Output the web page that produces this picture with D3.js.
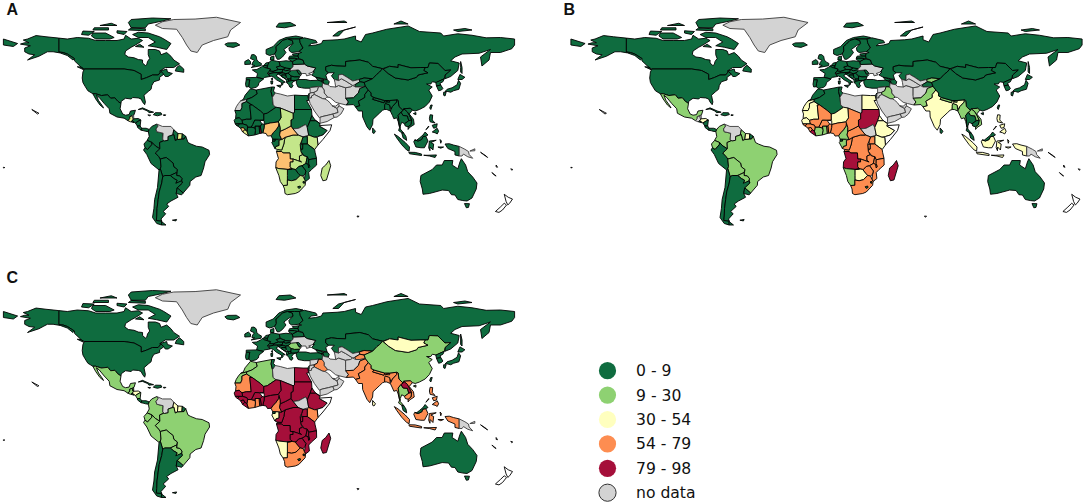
<!DOCTYPE html>
<html>
<head>
<meta charset="utf-8">
<script src="https://cdn.jsdelivr.net/npm/d3@7"></script>
<style>
  html, body { margin: 0; padding: 0; background: #fff; }
  svg { display: block; }
</style>
</head>
<body>
<svg id="chart"></svg>
<script>
// country outlines, lon,lat pairs. "|" separates islands
const outlines = [
  ["Greenland", "-73,78.2 -68,76 -58,75.5 -54,70 -51,65 -48,61 -43.5,60 -40,65 -32,68 -22,70.5 -20,75 -13,80 -30,83.5 -45,82.3 -60,82 -68,80.5"],
  ["Canada", "-141,69.6 -135,69 -128,70 -120,69.5 -115,68 -108,68 -100,68 -95,69 -94,71.5 -90,69 -85,69.5 -82,68 -87,65 -90,63.5 -94,61 -94.5,58.7 -92,57 -88,56.5 -85,55.3 -82,55 -82,53 -80,51.3 -79,52 -78.5,54 -77,56 -78,58.5 -78,62 -73,62 -70,61 -69,58.5 -65,60 -62,57.5 -60,55 -56,52.5 -60,50 -66,50 -70,47.5 -65,49 -64.5,47 -61,46 -64,44 -66,44 -67,45.5 -69,47.3 -71,45 -75,45 -79,43.3 -83,42 -83,45.5 -88,48 -95,49 -123,49 -125,50 -130,54.5 -130,56 -135,59 -138,60 -141,60.3|-62,66 -65,62 -72,63.5 -78,64.5 -73,67 -78,70 -85,70 -89,72 -85,73.5 -78,73 -70,70.5 -67,69|-105,69 -115,69 -118,71 -117,73 -108,73 -102,70|-125,72 -120,71.5 -116,74 -124,74.3|-90,76.5 -80,76.5 -78,79 -68,81 -62,82.5 -75,83 -90,82 -92,80|-92,75 -80,74.5 -80,75.8 -90,76.4|-117,75 -106,75 -106,76.5 -116,76.5|-59,47.7 -53,46.8 -53,49 -56,51.5 -58,50|-87,64 -81,63.5 -84,65.5|-128,50.5 -123.5,48.5 -125,50.3|-100,73 -95,72 -93,74 -100,74.5|-112,78 -100,78 -104,79.5"],
  ["USA", "-123,49 -95,49 -88,48 -83,45.5 -83,42 -79,43.3 -75,45 -71,45 -69,47.3 -67,45.5 -70,43.5 -70,41.7 -74,40.5 -75.5,38 -76,35.5 -78,34 -81,31.5 -80,27 -80.5,25.2 -82,27 -83,29 -85,29.7 -89,30 -90,29 -94,29.5 -97,27.5 -97.2,26 -99.5,27.5 -101.5,29.8 -104.5,29.5 -106.5,31.8 -111,31.3 -115,32.5 -117,32.5 -120.5,34.5 -122.5,37.5 -124,40 -124.5,43 -124,47|-141,69.6 -150,70.5 -157,71.3 -163,69 -166,68.3 -162,66.5 -165,66.5 -168,65.6 -161,64.5 -165,63 -165,60.5 -162,59 -158,58.5 -163,55 -155,57.5 -152,59 -149,60.5 -145,60.5 -140,59.7 -135,58 -131,55 -130,56 -135,59 -138,60 -141,60.3"],
  ["Mexico", "-117,32.5 -115,32.5 -111,31.3 -106.5,31.8 -104.5,29.5 -101.5,29.8 -99.5,27.5 -97.2,26 -97.8,22.5 -96,19 -94,18.2 -91.5,18.6 -90.5,21 -87,21.5 -88,18.5 -89.2,17.8 -91,17.2 -91,16 -92.2,14.5 -95,16.2 -100,17 -105,19.5 -105.5,22.5 -109,26 -112.5,30 -114.5,31.5 -113,28 -110,24 -109.5,23 -112,25 -115,29"],
  ["Guatemala", "-92.2,14.5 -91,16 -91,17.2 -89.2,17.8 -88.3,15.8 -89.3,14.4 -90.5,13.8"],
  ["Belize", "-89.2,17.8 -88.3,18.4 -88.2,16 -89,16"],
  ["Honduras", "-89.3,14.4 -88.3,15.8 -85,16 -83.2,15 -84.5,14.5 -87,13 -87.8,13.5"],
  ["El Salvador", "-90.1,13.8 -89.3,14.4 -87.8,13.5 -88,13.2"],
  ["Nicaragua", "-87,13 -84.5,14.5 -83.2,15 -83.7,11 -85.7,11"],
  ["Costa Rica", "-85.7,11 -83.7,11 -82.6,9.5 -83,8.2 -85.5,10"],
  ["Panama", "-83,8.2 -82.6,9.5 -79.5,9.5 -77.3,8.7 -77.9,7.2 -80,7.5 -81,7.8"],
  ["Cuba", "-85,22 -82,23.1 -77,21 -74.2,20.2 -77.5,19.9 -78.5,21 -82,22.4"],
  ["Hispaniola", "-74.4,18.5 -73,19.9 -69,19.8 -68.4,18.6 -71.5,17.8"],
  ["Jamaica", "-78.3,18.4 -76.3,18.2 -77,17.8"],
  ["Puerto Rico", "-67.2,18.5 -65.6,18.4 -66,18 -67.2,18"],
  ["Colombia", "-77.3,8.7 -75.5,10.7 -72,12.3 -71,11 -72.5,9 -72,7.2 -67.5,6.2 -67.8,2 -67,1.2 -70,0 -69.8,-4.2 -73,-2.3 -75.3,0 -78.8,1.4 -77.3,4 -77.9,7.2"],
  ["Venezuela", "-72,12.3 -68,10.7 -62,10.7 -60,8.5 -60.7,5.2 -64,4 -64,1.5 -66.5,1 -67.8,2 -67.5,6.2 -72,7.2 -72.5,9 -71,11"],
  ["Guyana", "-60,8.5 -57,6 -57.5,2 -59,1.3 -60,5.2 -60.7,5.2"],
  ["Suriname", "-57,6 -54,5.8 -54.3,2.2 -57.5,2"],
  ["French Guiana", "-54,5.8 -51.6,4.2 -52.8,2.3 -54.3,2.2"],
  ["Ecuador", "-78.8,1.4 -75.3,0 -75.5,-1.5 -78.5,-4.7 -80.3,-3.4 -81,-1"],
  ["Peru", "-80.3,-3.4 -78.5,-4.7 -75.5,-1.5 -75.3,0 -73,-2.3 -69.8,-4.2 -73,-7 -70.5,-9.5 -69.5,-11 -69,-16 -69.5,-17.5 -70.4,-18.3 -76,-14 -79,-8 -81.3,-5"],
  ["Brazil", "-60,5.2 -59,1.3 -57.5,2 -54.3,2.2 -52.8,2.3 -51.6,4.2 -50,0 -48,-1 -44,-2.5 -40,-3 -35.2,-5.2 -34.8,-8 -38,-12.8 -39,-17 -40.8,-22 -44.5,-23 -48.5,-26 -48.7,-28.5 -53.4,-33.7 -57.6,-30.2 -54,-27 -54.5,-25.5 -54.3,-24 -55.8,-22.3 -58,-22 -57.5,-18 -60,-16.2 -60.5,-13.7 -65.3,-10 -69.5,-11 -70.5,-9.5 -73,-7 -69.8,-4.2 -70,0 -67,1.2 -66.5,1 -64,1.5 -64,4"],
  ["Bolivia", "-69.5,-11 -65.3,-10 -60.5,-13.7 -60,-16.2 -57.5,-18 -58,-20 -62.5,-22 -66.3,-22 -67.8,-22.8 -69.5,-17.5 -69,-16"],
  ["Paraguay", "-58,-20 -58,-22 -55.8,-22.3 -54.3,-24 -54.5,-25.5 -57.5,-27.3 -58.6,-27.2 -57.7,-25.2 -60,-24 -62.5,-22"],
  ["Chile", "-70.4,-18.3 -69.5,-17.5 -67.8,-22.8 -68.5,-27 -70.3,-33 -71,-38 -71.8,-44 -72,-49 -72.3,-52 -68.5,-52.3 -68.6,-55 -72,-54 -75,-50 -74,-44 -73.5,-38 -71.5,-30"],
  ["Argentina", "-66.3,-22 -62.5,-22 -60,-24 -57.7,-25.2 -58.6,-27.2 -54.5,-25.5 -54,-27 -57.6,-30.2 -58.3,-34 -57,-36.5 -62,-39 -65,-41 -63.6,-42.6 -67.5,-46 -65.7,-47.5 -69,-51 -68.5,-52.3 -72.3,-52 -72,-49 -71.8,-44 -71,-38 -70.3,-33 -68.5,-27 -67.8,-22.8|-68.6,-52.7 -65.5,-55 -68.6,-55"],
  ["Uruguay", "-57.6,-30.2 -53.4,-33.7 -54.5,-34.9 -58.3,-34"],
  ["Falklands", "-61,-51.8 -58,-51.3 -58.5,-52.3"],
  ["Iceland", "-24,65.5 -22,66.4 -16,66.5 -13.5,65 -18,63.4 -22.5,64"],
  ["UK", "-5.5,50 1.5,51.2 1.7,52.7 0,53.5 -1.5,55 -2,57.5 -3.5,58.6 -5.2,58.5 -6,56 -3.2,54.8 -4.5,53.3 -5,51.7 -3,51.4"],
  ["Ireland", "-10,52 -6,52.2 -6,54 -7.5,55.3 -10,54"],
  ["Norway", "5,59 7.5,58 11,59 12.2,61 12,64 14,65.5 16.5,68 20,69 25,69 28.5,69 31,70 26,71 19,70 14,68 10,64 5,62|12,77 18,76.5 26,78 22,80 14,79.5"],
  ["Sweden", "11,59 12.8,55.5 14.3,55.5 16.5,57 19,60 17.5,62 21,64.5 24,66 23.5,68 20,69 16.5,68 14,65.5 12,64 12.2,61"],
  ["Finland", "24,66 21,63 21.5,61 23,60 28,60.5 31,63 29,66.5 29,69 28.5,69 25,69 20.7,69 23.5,68"],
  ["Denmark", "8,55 8.2,57 10.5,57.7 10.5,55"],
  ["Netherlands", "3.5,51.4 4.8,53 7,53.4 6,51"],
  ["Belgium", "2.5,51 3.5,51.4 6,51 5.8,49.6 4,50"],
  ["France", "-4.7,48.4 -1.5,48.7 1.5,50.2 2.5,51 4,50 5.8,49.6 8.2,49 7.5,47.6 6,46.3 7.7,44 4,43.4 3,42.5 -1.7,43.4 -1,46|8.6,42.5 9.5,43 9.4,41.5"],
  ["Spain", "-9,43.2 -1.7,43.4 3.2,42.3 0,40 -0.5,38 -2,36.8 -5.5,36 -7.3,37.2 -7,39.5 -6.5,41.8 -9,41.8"],
  ["Portugal", "-9,41.8 -6.5,41.8 -7,39.5 -7.3,37.2 -9,37 -9.5,38.8"],
  ["Germany", "7,53.4 9,54.8 14.2,53.9 15,51 12.2,50.3 13.8,48.7 10,47.4 7.5,47.6 8.2,49 5.8,49.6 6,51"],
  ["Switzerland", "6,46.3 7.5,47.6 10,47.4 10.4,46.5 8,46"],
  ["Austria", "10,47.4 13.8,48.7 17,48.7 16.2,46.8 13,46.6 10.4,46.8"],
  ["Italy", "7.7,44 6.9,45.8 10.4,46.5 13,46.6 13.8,45.6 12.3,45 12.6,44 16,41.8 18.5,40.2 16.7,40 17,39 16,38 15.8,40 12.3,41.8 10.3,43.5 8.5,44.3|12.5,38 15.5,38.2 15,36.7|8.3,41 9.7,41 9.5,39 8.5,39"],
  ["Poland", "14.2,53.9 19,54.5 23.5,54 24,50.5 22.5,49.2 19,49.5 15,51"],
  ["Czechia", "12.2,50.3 15,51 18.8,49.6 17,48.7 13.8,48.7"],
  ["Slovakia", "17,48.7 18.8,49.6 22.5,49.2 22,48.4 18.8,47.8"],
  ["Hungary", "16.2,46.8 17,48.7 18.8,47.8 22,48.4 22.8,48 20.5,46.2 18.8,45.9"],
  ["Slovenia", "13.8,45.6 13,46.6 16.2,46.8 16.2,46.4"],
  ["Croatia", "13.8,45.6 16.2,46.4 18.8,45.9 19,44.9 16,45 16,44 18.5,42.5 14.8,44.8"],
  ["Bosnia", "16,45 19,44.9 19.3,43.5 18.5,42.6 16,44"],
  ["Serbia", "18.8,45.9 20.5,46.2 22.7,44.3 22.5,42.3 20.5,42.3 19.3,43.5 19,44.9"],
  ["Albania", "18.5,42.5 20.5,42.3 21,40.8 19.5,40 19.3,41.5"],
  ["Macedonia", "20.5,42.3 22.5,42.3 22.8,41.3 21,40.8"],
  ["Greece", "19.5,40 21,40.8 22.8,41.3 26.3,41.5 24,40.5 23,39 24,38 23,36.5 21.7,37 21,38.5"],
  ["Romania", "22.8,48 26.5,48.3 28.2,45.5 29.6,45 28.5,43.8 25,43.7 22.7,44.3 20.5,46.2"],
  ["Bulgaria", "22.7,44.3 25,43.7 28.5,43.8 27.8,42 26.3,41.5 22.8,41.3 22.5,42.3"],
  ["Ukraine", "24,50.5 24,52 32,52.3 34,51 40,49.7 38,47 35,46 36.5,45.2 33.5,44.4 33,46 30.5,46 29.6,45 28.2,45.5 26.5,48.3 22.8,48 22,48.4 22.5,49.2"],
  ["Moldova", "26.5,48.3 28,48.3 30,46 28.2,45.5"],
  ["Belarus", "24,52 23.5,54 27,55.8 31,55 32,52.3"],
  ["Lithuania", "21,55.3 21,56.3 25,56.3 27,55.8 23.5,54"],
  ["Latvia", "21,56.3 21.5,57.5 24.3,57.8 27.5,57.7 28,56 27,55.8 25,56.3"],
  ["Estonia", "23.5,59 28,59.5 27.5,57.7 24.3,57.8"],
  ["Russia", "28,60.5 30,60 28,59.5 27.5,57.7 28,56 31,55 32,52.3 34,51 40,49.7 38,47 39,47 37,45 40,43.5 48,42 47,45 49,46.5 47,48 47,50.5 51,51.5 55,51 61,50.8 61,54 71,55 77,53.5 80,50.8 87,49.2 92,50.8 98,50 98,52 102,51 107,49.8 114,50 119,50 120,53 126,52.7 131,48 135,48.3 131,45 131,42.5 135,44 140,48 141,53 135,54.5 138,57 143,59 155,59.5 163,62 156,57 157,51 162,55 163,60 170,60 178,62.5 180,65 180,69 170,70 160,69.8 150,71.5 140,72.5 130,71 128,73 113,74 105,77.7 90,75.5 80,73 75,72 72,67 68,68.5 68,71 60,69 55,68.5 45,68 44,66 40,65 35,64.5 37,66 41,66.5 40,68 32,69.8 28.5,69 29,66.5 31,63|-180,69 -170,66 -173,64 -180,65|142,54 143,50 143,46 142,47 142,50|52,71 56,74 68,77 60,75 56,71|95,79 105,79 100,81|137,75 145,76 150,75 140,74|48,80 60,81 62,80"],
  ["Georgia", "40,43.5 46,41.8 43.5,41 41.5,41.5"],
  ["Armenia", "43.5,41 45,41 46,39 44.8,39.7"],
  ["Azerbaijan", "46,41.8 48,42 49.5,40.5 48.8,38.5 46,39 45,41"],
  ["Turkey", "26.3,41.5 28,42 33,42 36,41.3 41.5,41.5 43.5,41 44.8,39.7 44.5,37 42,37.2 36.5,36.7 36,36.2 32,36.2 30,36.5 27.5,37 26.3,39.5"],
  ["Syria", "36,36.2 36.5,36.7 42,37.2 41,34.5 38.8,33.4 36,33"],
  ["Israel", "34.5,31.5 35.5,33 35.5,31 35,29.5"],
  ["Jordan", "35.5,32 36,33 38.8,33.4 39,32 37,31 37,29.8 35,29.5 35.5,31"],
  ["Iraq", "42,37.2 44.5,37 46,35 46,33 48.5,30.2 47.5,30 46.5,29 44.8,29.2 39,32 38.8,33.4 41,34.5"],
  ["Iran", "44.8,39.7 46,39 48.8,38.5 50,37.3 54,37 56,38 61,36.5 61,31.5 63,27 61.5,25 57,26 54,26.8 50,30 48.5,30.2 46,33 46,35 44.5,37"],
  ["Saudi Arabia", "35,29.5 37,29.8 37,31 39,32 44.8,29.2 46.5,29 48,28.2 50,26.5 51.5,24.5 55,22.7 55.7,20 52,19 48.8,18.2 45,17.4 43,16.8 42.5,16.5 39,21 36,26"],
  ["Yemen", "43,12.8 43,16.8 45,17.4 48.8,18.2 52,19 53,16.7 48,14"],
  ["Oman", "52,19 55.7,20 55,22.7 56.3,24.5 59.8,22.5 57.7,19 55,17 53,16.7"],
  ["UAE", "51.5,24.5 54,24.2 56.3,26 56.3,24.5 55,22.7"],
  ["Kazakhstan", "47,50.5 51,51.5 55,51 61,50.8 61,54 71,55 77,53.5 80,50.8 87,49.2 85,47 83,45.5 80,42.5 74,43 70.5,42 66,41 62,43.5 58.5,45.5 56,45 56,41.3 53,42 51,44.5 53,46.5 49,46.5 47,48"],
  ["Turkmenistan", "53,42 56,41.3 58,42.5 61,41 66,38 64.5,37 61,36.5 56,38 54,37 53.5,40"],
  ["Uzbekistan", "56,45 58.5,45.5 62,43.5 66,41 70.5,42 71,40.5 67.5,38.5 66,38 61,41 58,42.5 56,41.3"],
  ["Kyrgyzstan", "70.5,42 74,43 80,42.5 74,40 71,40.5"],
  ["Tajikistan", "67.5,38.5 71,40.5 74,40 75,37.5 71,37 68,37"],
  ["Afghanistan", "61,36.5 64.5,37 66,38 68,37 71,37 75,37.5 71,36 70,33 66.5,29.8 61,29.5 61,31.5"],
  ["Pakistan", "61,29.5 66.5,29.8 70,33 71,36 75,37.5 77,35 74.5,32 74.5,30 70,27.5 71,24.5 68,23.7 66.5,25.3 61.5,25 63,27"],
  ["India", "77,35 79,33 79,31 81,30 80,28.8 88,26.5 88.5,28 92,28 97,28.5 97,27 94,24 93,22 92,24.5 89,26 88.5,22 87,21.5 85,19.7 80.3,15.5 80,12 78,8.2 76,10.5 73,17 72.8,21 70,21 68,23.7 71,24.5 70,27.5 74.5,30 74.5,32"],
  ["Nepal", "80,28.8 81,30 88.5,28 88,26.5"],
  ["Bhutan", "89,27 92,28 92,26.8"],
  ["Bangladesh", "88.5,25 89,26 92,25 92.5,21 90,22 88.5,22"],
  ["Sri Lanka", "80,9.7 82,7.5 81,6 80,6.5"],
  ["China", "74,40 80,42.5 83,45.5 85,47 87,49.2 91,46 96,43 105,41.7 111,43.5 112,45 119,46.5 116,48 117,50 119,50 120,53 126,52.7 131,48 135,48.3 131,45 130.5,42.5 125,40 122,40.5 121,39 118,39 122,37 119.5,35 122,31 120,27 117,24 113,22 110,21 108,21.6 106.5,22.8 102,22.5 101.5,21.3 98.5,24 98,28 97,28.5 92,28 88.5,28 81,30 79,31 79,33 77,35 75,37.5|108.7,19.3 110.5,20 110.5,18.5"],
  ["Mongolia", "87.5,49 92,50.8 98,50 98,52 102,51 107,49.8 114,50 117,50 116,48 119,46.5 112,45 111,43.5 105,41.7 96,43 91,46"],
  ["North Korea", "124.5,40 130.5,42.5 129.5,40.5 127.5,39.5 128,38.3 125,37.7"],
  ["South Korea", "125,37.7 128,38.3 129.5,36 128.5,35 126.5,34.5"],
  ["Japan", "131,34 132.5,35.5 136,36.5 139.5,38.5 140.5,41.5 142,39.5 140.8,35.5 137,34.5 135,33.5 133,34|140,42 141.5,45.4 145,43.5 143,42|130,33.5 131.8,33.5 131,31 130,31.5"],
  ["Taiwan", "120.2,23 121,25 122,25 121,22"],
  ["Myanmar", "92.5,21 93,22 94,24 97,27 97,28.5 98,28 98.5,24 101.5,21.3 100,20.3 98,18 98.5,15 99,10 98,14 97,16.5 95,15.8 94,18"],
  ["Thailand", "100,20.3 101.5,18 104.5,17.8 105.5,14.5 102.5,12.5 100.5,13.5 99.5,11 99.5,9 102,6.2 100.5,6.5 98.3,8 99,10 98.5,15 98,18"],
  ["Laos", "101.5,21.3 102,22.5 104.5,20.5 106,18 107.5,15 105.5,14.5 104.5,17.8 101.5,18 100,20.3"],
  ["Vietnam", "102,22.5 106.5,22.8 108,21.6 105.8,19 108.8,15.5 109.3,12 106,10 105,8.7 105,10.5 107,12 107.5,15 106,18 104.5,20.5"],
  ["Cambodia", "102.5,12.5 105.5,14.5 107.5,15 107,12 105,10.5 103,11"],
  ["Indonesia", "95.3,5.6 98,4 103,0 106,-3 105.7,-5.8 104,-5 100.5,-1.5 97,3|105.5,-6.5 110,-6.6 114.5,-7.7 114.5,-8.7 106,-7.5|109,0.5 109.7,1.7 112,1 114.5,2 115.5,4 117.5,4.2 119,1 116.5,-3.5 114,-3.5 110.5,-3|119.5,-3.5 120,1 124.8,1.5 121,0 123,-1 122.5,-5 120.5,-3 120.4,-5.5|116,-8.5 119,-8.5 125,-8.3 124,-10 120,-9|131,-1 134,-0.8 137,-1.7 141,-2.6 141,-9 138,-8.3 138,-6 133,-4|127.5,2 128.5,1 128,-0.5|126,-3 130,-3 128,-3.8"],
  ["Malaysia", "100.5,6.5 102,6.2 103.5,4 104,1.4 101.5,3|109.7,1.7 111,1.5 113,3 115.5,5 117,7 119,5 117.5,4.2 115.5,4 114.5,2 112,1"],
  ["Papua New Guinea", "141,-2.6 145,-4.5 147.5,-6 148,-8 150.5,-10.5 147,-9.5 144,-7.7 143,-9 141,-9|148.5,-5.7 152,-4.2 152,-5.5"],
  ["Philippines", "120.5,18.5 122.3,18.3 122,15 124,13 120.5,13.8 120,16|122,7 125.5,9.5 126.5,7.5 125.5,5.7 124,6.5|122,11.5 125.5,12.5 125,10 123,9.5|117.5,8.5 119.5,11 119.5,10.3"],
  ["Australia", "113.5,-26 114,-22 122,-18 125,-15 129,-15 130.5,-12 136.5,-12 136,-15 140,-17.5 141.5,-13 142.5,-10.8 145.5,-15 147,-19.5 150.5,-23 153.5,-27 153,-31 150,-37 146.5,-39 143.5,-38.7 140,-38 138,-35 135.5,-34.8 133.5,-32 129,-31.7 124,-33 120,-34 115.5,-34.5 115,-31|144.7,-40.7 148.2,-40.8 147.5,-43.3 146,-43.5"],
  ["New Zealand", "172.7,-34.5 175.5,-36.5 178.5,-37.7 176.5,-40.5 175.2,-41.6 174,-39.3|172.7,-40.5 174.3,-41.7 171.5,-45 169,-46.6 166.5,-46 170,-43"],
  ["Pacific islands", "156,-6.5 160,-9 161,-10 158,-8|167,-15 168,-16.5 167,-16.3|164,-20 167,-22.3 166,-22|177.3,-17.5 178.7,-18 178,-18.5|-180,-16.5 -179,-16.7 -180,-17|-160,22 -155,19.5 -156,19|69,-49 70.5,-49.2 69.5,-49.8"],
  ["Morocco", "-9.8,31.5 -6,35.8 -2,35 -1.2,32.5 -5,30 -8.7,28.7 -13,27.7 -11,28.8"],
  ["Western Sahara", "-13,27.7 -8.7,28.7 -8.7,27.3 -12,26 -12,23.4 -13,21.3 -17,21.3 -16,23.8 -14.5,26"],
  ["Mauritania", "-17,21.3 -13,21.3 -12,23.4 -12,26 -8.7,27.3 -4.8,25 -6.5,25 -5.5,15.5 -9,15.5 -12,14.8 -14,16.5 -16.5,16 -16.2,19"],
  ["Algeria", "-2,35 9,37 8.5,34 9.5,30.2 10,25 12,23.5 5.8,19.5 3.3,19 1,21 -4.8,25 -8.7,27.3 -8.7,28.7 -5,30 -1.2,32.5"],
  ["Tunisia", "9,37 11,37 10.2,34.3 11.5,33 9.5,30.2 8.5,34"],
  ["Libya", "11.5,33 15,32.3 20,31 25,31.6 25,20 24,19.5 15,23 12,23.5 10,25 9.5,30.2"],
  ["Egypt", "25,31.6 31,31.3 34.3,31.3 35,28 33.5,28 37,22 25,22"],
  ["Sudan", "25,22 37,22 37.3,18 36,14.5 34,10 32.8,12 28,9.5 24,9 22.5,11 22.5,15 24,15.7 24,19.5 25,20"],
  ["South Sudan", "24,9 28,9.5 32.8,12 34,10 35,5 31,3.7 27.5,5"],
  ["Eritrea", "36,14.5 37.3,18 39.5,15 43,12.5 40,14.5"],
  ["Ethiopia", "36,14.5 40,14.5 43,12.5 42.5,11 48,8 45,5 41.5,4 39,3.5 35,5 34,10"],
  ["Somalia", "43,11.3 51.2,11.8 50,8 45,2 41.5,-1.7 41,3.5 41.5,4 45,5 48,8 42.5,11"],
  ["Kenya", "35,5 39,3.5 41,3.5 41.5,-1.7 39.2,-4.7 34,-1 34,4"],
  ["Uganda", "31,3.7 34,4 34,-1 30,-1 30,1"],
  ["Tanzania", "30.7,-1 34,-1 39.2,-4.7 39.5,-6.5 40.5,-10.5 35,-11.5 34,-9.5 32,-9 29.5,-6 29.3,-4.4 30.7,-4.4"],
  ["Rwanda", "29,-1.2 30.8,-1.2 30.7,-4.4 29.3,-4.4"],
  ["DR Congo", "12.3,-6 13,-4.7 16,-5 17.5,-1 18,2 18.5,3.5 24,5 27.5,5 31,3.7 30,1 29,-1.2 29.3,-4.4 29.5,-6 30.7,-8.2 28.5,-9 28.5,-11.9 30,-13 27,-12 24,-11 22,-11 21.8,-7 17,-7 16,-6"],
  ["Congo", "11.2,-4 13,-4.7 16,-5 17.5,-1 18,2 18.5,3.5 16,2 14,1.5 14,-2 12,-2.5"],
  ["Gabon", "9,0 9.8,1 11.3,1 11.3,2.3 13.3,2.2 14,1.5 14,-2 12,-2.5 11.2,-4"],
  ["Equatorial Guinea", "9.5,1 9.6,2.3 11.3,2.3 11.3,1"],
  ["Cameroon", "8.5,4.5 9.6,2.3 13.3,2.2 16,2 14.5,5 15,7.5 15,10 14,13 13.8,11 12,8.5 10,6.5"],
  ["Central African Republic", "14.5,5 15,7.5 18.5,9 22.5,11 24,9 27.5,5 24,5 18.5,3.5 16,2"],
  ["Chad", "13.5,13.7 14,13 15,10 15,7.5 18.5,9 22.5,11 22.5,15 24,15.7 24,19.5 15,23 15.5,16.5"],
  ["Niger", "3.7,12 3.7,14.5 0.3,14.9 3.3,15 3.3,19 5.8,19.5 12,23.5 15,23 15.5,16.5 13.5,13.7 8,13"],
  ["Nigeria", "2.7,6.4 5,6 6,4.3 8.5,4.5 10,6.5 12,8.5 13.8,11 14,13 13.5,13.7 8,13 3.7,12 3.6,10"],
  ["Benin", "1.6,6.2 2.7,6.4 3.6,10 3.7,12 2.2,12.4 0.9,11"],
  ["Togo", "0.5,6 1.6,6.2 0.9,11 0,11"],
  ["Ghana", "-3,5 0.5,6 0,11 -2.8,11 -2.5,8"],
  ["Ivory Coast", "-7.5,4.4 -3,5 -2.5,8 -2.8,9.7 -5.5,10.3 -8,10.3 -8.5,7.5"],
  ["Burkina Faso", "-5.5,10.3 -2.8,9.7 -2.8,11 0.9,11 2.2,12.4 0.3,14.9 -3,15 -4.5,12"],
  ["Mali", "-12,14.8 -9,15.5 -5.5,15.5 -6.5,25 -4.8,25 1,21 3.3,19 3.3,15 0.3,14.9 -3,15 -4.5,12 -5.5,10.3 -8,10.3 -8.5,11.5 -11.5,12.4"],
  ["Senegal", "-17.5,14.7 -16.5,16 -14,16.5 -12,14.8 -11.5,12.4 -16.7,12.4"],
  ["Guinea-Bissau", "-16.7,12.4 -13.7,12.4 -13.7,11 -15.5,11"],
  ["Guinea", "-15,11 -13.7,12.4 -11.5,12.4 -8.5,11.5 -8,10.3 -8.5,7.5 -10,8.5 -11,10 -13,9.5"],
  ["Sierra Leone", "-13,9.5 -11,10 -10,8.5 -11.5,7"],
  ["Liberia", "-11.5,7 -10,8.5 -8.5,7.5 -7.5,4.4"],
  ["Angola", "11.8,-16.8 12,-13 13.7,-10.7 12.3,-6 16,-6 17,-7 21.8,-7 22,-11 24,-11 24,-13 22,-13 22,-16.2 23.4,-17.6 20.8,-18 14,-17.4"],
  ["Zambia", "22,-13 24,-13 24,-11 27,-12 30,-13 28.5,-11.9 28.5,-9 30.7,-8.2 32,-9 34,-9.5 33,-14 30.3,-15.5 28,-16 26,-18 23.4,-17.6 22,-16.2"],
  ["Malawi", "34,-9.5 35,-11.5 35,-14 35.8,-16 35,-17 34.5,-14.5 33,-14"],
  ["Mozambique", "40.5,-10.5 40.6,-15 37,-18 35,-20 35.5,-24 32.8,-26 32,-24.5 32.5,-21 33,-19 30.3,-15.5 33,-14 34.5,-14.5 35,-17 35.8,-16 35,-14 35,-11.5"],
  ["Zimbabwe", "26,-18 28,-16 30.3,-15.5 33,-19 32.5,-21 31,-22.4 29,-22 27.5,-20.5 25.5,-18"],
  ["Botswana", "20,-18 23.4,-17.6 25.5,-18 27.5,-20.5 29,-22 26,-24.8 23,-25.5 20,-25 20,-22"],
  ["Namibia", "11.8,-16.8 14,-17.4 20.8,-18 23.4,-17.6 20,-18 20,-22 20,-28.5 17,-28.7 15,-26 14,-22"],
  ["South Africa", "17,-28.7 20,-28.5 20,-25 23,-25.5 26,-24.8 29,-22 31,-22.4 32,-24.5 32.8,-26 32.5,-28.5 28,-33 25.5,-34 20,-34.8 18.3,-34 18,-31"],
  ["Lesotho", "27.2,-29.5 29,-29 29.3,-30 28,-30.6"],
  ["Swaziland", "31,-26 32,-26 32,-27.2 31,-27"],
  ["Madagascar", "49.3,-12 50.5,-15.5 47.5,-25 45,-25.5 43.5,-22 44.5,-17 47,-15"]
];

// every country not listed for a panel is in the 0 - 9 band
const blank = ["New Zealand", "Pacific islands", "Somalia"];
const greyA = ["Greenland", "Libya", "Ukraine", "Syria", "Iraq", "Iran", "Saudi Arabia", "Yemen", "Oman", "UAE", "Jordan", "Turkmenistan", "Uzbekistan", "Afghanistan", "South Sudan", "Venezuela", "Western Sahara", "Belize", "Papua New Guinea"];
const lightA = ["Chad", "DR Congo", "Congo", "Zambia", "Namibia", "South Africa", "Madagascar", "Kenya"];
const yellowA = ["Guatemala", "Suriname", "Liberia"];
const orangeA = ["Nigeria", "Central African Republic", "Angola", "Sierra Leone"];
const redA = ["Togo"];

const greyB = ["Greenland", "Libya", "Ukraine", "Syria", "Iran", "Saudi Arabia", "Yemen", "Oman", "UAE", "Jordan", "Turkmenistan", "Uzbekistan", "Afghanistan", "South Sudan", "Venezuela", "Belize", "Guatemala", "Papua New Guinea"];
const lightB = ["Mexico", "Colombia", "Ecuador", "Brazil", "Bolivia", "Paraguay", "Guyana", "Gabon", "Cameroon", "Ivory Coast", "Ghana", "Namibia", "Iraq", "Pakistan", "Nepal", "Bhutan", "Kyrgyzstan", "Bangladesh", "Myanmar", "Laos", "Vietnam"];
const yellowB = ["Honduras", "Suriname", "Egypt", "Ethiopia", "Eritrea", "Kenya", "Niger", "Mauritania", "Western Sahara", "Senegal", "Botswana", "India", "Indonesia", "Philippines"];
const orangeB = ["Uganda", "Tanzania", "DR Congo", "Congo", "Central African Republic", "Chad", "Nigeria", "Benin", "Togo", "Burkina Faso", "Mali", "Guinea", "Guinea-Bissau", "Sierra Leone", "Zambia", "Malawi", "Mozambique", "Zimbabwe", "South Africa", "Rwanda"];
const redB = ["Sudan", "Liberia", "Angola", "Madagascar"];

const greyC = ["Greenland", "Libya", "Ukraine", "Syria", "Iran", "Saudi Arabia", "Yemen", "Oman", "UAE", "Jordan", "Turkmenistan", "Uzbekistan", "Afghanistan", "South Sudan", "Venezuela", "Papua New Guinea"];
const lightC = ["Mexico", "Belize", "Guatemala", "Nicaragua", "Colombia", "Ecuador", "Peru", "Brazil", "Bolivia", "Paraguay", "Morocco", "Algeria", "Western Sahara", "China", "Thailand", "Romania"];
const yellowC = ["Honduras", "Guyana", "Suriname", "Mongolia", "Namibia", "Gabon", "Sri Lanka"];
const orangeC = ["Mauritania", "Ivory Coast", "Ghana", "Cameroon", "Kenya", "South Africa", "Botswana", "India", "Pakistan", "Nepal", "Bhutan", "Bangladesh", "Iraq", "Myanmar", "Vietnam", "Cambodia", "Indonesia", "Philippines", "Kyrgyzstan", "Tajikistan"];
const redC = ["Mali", "Niger", "Chad", "Sudan", "Egypt", "Ethiopia", "Eritrea", "Central African Republic", "DR Congo", "Congo", "Nigeria", "Burkina Faso", "Benin", "Togo", "Senegal", "Guinea", "Guinea-Bissau", "Sierra Leone", "Liberia", "Angola", "Zambia", "Zimbabwe", "Mozambique", "Malawi", "Tanzania", "Uganda", "Rwanda", "Madagascar", "Laos"];

const legendLabels = ["0 - 9", "9 - 30", "30 - 54", "54 - 79", "79 - 98", "no data"];
const legendColors = ["#0f6c3f", "#8ed172", "#ffffbf", "#fd8d51", "#a50f3a", "#d3d3d3"];
const paletteA = ["#0f6c3f", "#c4e68a", "#e9f08e", "#fdc071", "#a50f3a"];

const panels = [
  { label: "A", x: 0, y: 0, labelX: 6.5, labelY: 14.8, palette: paletteA, bands: [lightA, yellowA, orangeA, redA], grey: greyA },
  { label: "B", x: 567.5, y: 0, labelX: 563.5, labelY: 14.8, palette: legendColors, bands: [lightB, yellowB, orangeB, redB], grey: greyB },
  { label: "C", x: 0, y: 272.5, labelX: 6.5, labelY: 283, palette: legendColors, bands: [lightC, yellowC, orangeC, redC], grey: greyC }
];

const width = 1084, height = 503;
const svg = d3.select("#chart").attr("width", width).attr("height", height);

const features = outlines.map(([name, rings]) => ({
  type: "Feature",
  properties: { name },
  geometry: {
    type: "MultiPolygon",
    coordinates: rings.split("|").map(r => {
      const pts = r.trim().split(" ").map(p => p.split(",").map(Number));
      return [pts.concat([pts[0]])];
    })
  }
}));

panels.forEach(p => {
  const lon = d3.scaleLinear().domain([-180, 180]).range([3.4 + p.x, 514.6 + p.x]);
  const lat = d3.scaleLinear().domain([0, 90]).range([142.5 + p.y, 7.5 + p.y]);
  const path = d3.geoPath(d3.geoTransform({
    point(x, y) { this.stream.point(lon(x), lat(y)); }
  }));

  const fill = name => {
    if (blank.includes(name)) return "#fff";
    if (p.grey.includes(name)) return "#d3d3d3";
    const i = p.bands.findIndex(b => b.includes(name));
    return p.palette[i + 1];
  };

  svg.append("g").selectAll("path")
    .data(features)
    .enter()
    .append("path")
    .attr("d", path)
    .attr("fill", d => fill(d.properties.name))
    .attr("stroke", d => p.grey.includes(d.properties.name) ? "#3a3a3a" : "#000")
    .attr("stroke-width", 0.9)
    .attr("stroke-linejoin", "round");

  svg.append("text")
    .attr("x", p.labelX)
    .attr("y", p.labelY)
    .attr("font-family", "'Liberation Sans', Arial, sans-serif")
    .attr("font-weight", "bold")
    .attr("font-size", 16)
    .attr("fill", "#111")
    .text(p.label);
});

// legend
const legendY = d3.scalePoint().domain(legendLabels).range([370.7, 492.7]);
const legend = svg.append("g");
legend.selectAll("circle")
  .data(legendLabels)
  .enter()
  .append("circle")
  .attr("cx", 607.5)
  .attr("cy", d => legendY(d))
  .attr("r", 8.6)
  .attr("fill", (d, i) => legendColors[i])
  .attr("stroke", d => d === "no data" ? "#333" : "none")
  .attr("stroke-width", 1);
legend.selectAll("text")
  .data(legendLabels)
  .enter()
  .append("text")
  .attr("x", 636)
  .attr("y", d => legendY(d) + 5.5)
  .attr("font-family", "'DejaVu Sans', sans-serif")
  .attr("font-size", 15.6)
  .attr("fill", "#111")
  .text(d => d);
</script>
</body>
</html>
